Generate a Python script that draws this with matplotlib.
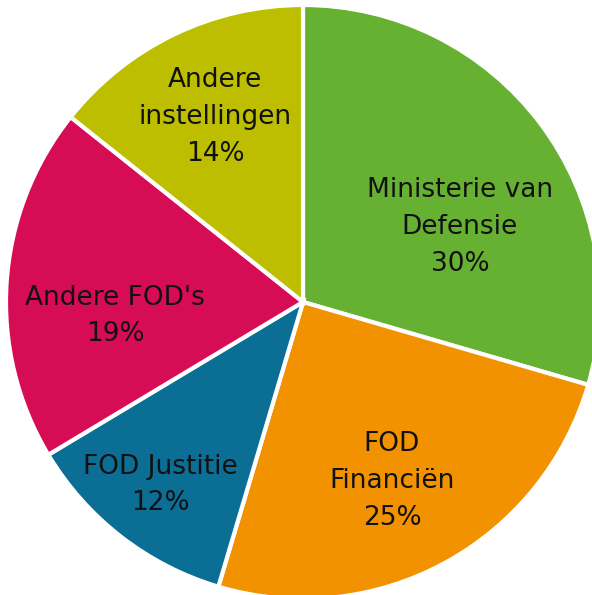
import matplotlib.pyplot as plt

labels = ["Ministerie van\nDefensie", "FOD\nFinanciën", "FOD Justitie", "Andere FOD's", "Andere\ninstellingen"]
shares = [29.5, 25.1, 11.8, 19.3, 14.3]      # slice sizes as measured
pct_labels = ["30%", "25%", "12%", "19%", "14%"]
colors = ["#66B132", "#F39200", "#0B6E95", "#D60D55", "#BEBE00"]
# label centres in pixels of the 592x595 picture
label_px = [(460, 227), (392, 481), (160, 485), (115, 316), (215, 117)]

W, H = 592, 595
cx, cy, R = 303, 302, 297

fig = plt.figure(figsize=(W / 100, H / 100), dpi=100)
ax = fig.add_axes([0, 0, 1, 1])
ax.pie(shares, colors=colors, startangle=90, counterclock=False, radius=1,
       wedgeprops=dict(edgecolor="white", linewidth=3))
ax.set_xlim(-cx / R, (W - cx) / R)
ax.set_ylim(-(H - cy) / R, cy / R)
ax.set_aspect("equal")
ax.axis("off")

for lab, pct, (px, py) in zip(labels, pct_labels, label_px):
    ax.text((px - cx) / R, (cy - py) / R, f"{lab}\n{pct}", ha="center", va="center",
            fontsize=19, color="#111111", linespacing=1.54, family="DejaVu Sans")

fig.savefig("out.png", dpi=100)
